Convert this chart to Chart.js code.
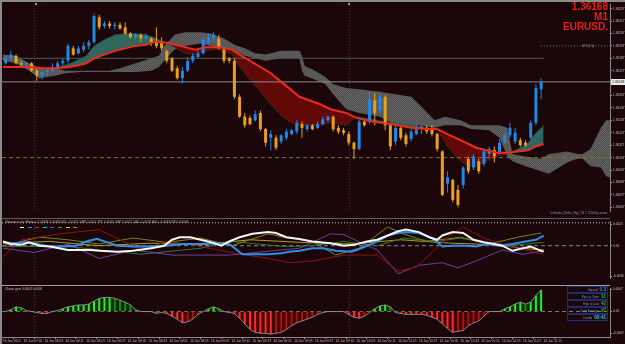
<!DOCTYPE html>
<html lang="en">
<head>
<meta charset="UTF-8">
<title>EURUSD. M1</title>
<script src="https://cdn.jsdelivr.net/npm/chart.js"></script>
<style>
    body { margin: 0; background: #1b0609; }
    #wrap { position: relative; width: 625px; height: 344px; background: #1b0609; overflow: hidden;
            font-family: 'Liberation Sans', Arial, sans-serif; }
    .pane { position: absolute; left: 2px; width: 623px; }
    #p1 { top: 2px; height: 216px; }
    #p2 { top: 219px; height: 66px; }
    #p3 { top: 286px; height: 58px; }
    .edge { position: absolute; background: #8a8a8a; }
    .sep { position: absolute; left: 2px; width: 608px; height: 1px; }
    .tiny { position: absolute; white-space: nowrap; line-height: 1; }
    #sym { position: absolute; right: 17px; top: 2px; text-align: right; color: #e3201b;
           font: bold 10px/10px 'Liberation Sans', Arial, sans-serif; }
    #pricebox { position: absolute; left: 611px; top: 79px; width: 14px; height: 6px; background: #ececec;
                color: #000; font-size: 3.4px; line-height: 6px; padding-left: 1px; overflow: hidden; }
    #info { position: absolute; left: 567px; top: 286px; width: 41px; }
    #info .row { height: 5px; border: 1px solid #1f2d70; margin-bottom: 0; display: flex;
                 justify-content: flex-end; align-items: center; gap: 2px; padding-right: 1px; }
    #info .lab { color: #7d8fb8; font-size: 3px; }
    #info .val { font-size: 4.6px; font-weight: bold; }
    .dash { position: absolute; top: 227px; width: 4px; height: 1px; }
    .mark { position: absolute; top: 3px; width: 2px; height: 2px; background: #a8a830; }
</style>
</head>
<body>
<div id="wrap">
    <div class="pane" id="p1"><canvas id="c1"></canvas></div>
    <div class="pane" id="p2"><canvas id="c2"></canvas></div>
    <div class="pane" id="p3"><canvas id="c3"></canvas></div>

    <div class="edge" style="left:0;top:0;width:625px;height:2px"></div>
    <div class="edge" style="left:0;top:0;width:2px;height:344px"></div>
    <div class="sep" style="top:218px;background:#5c5c5c"></div>
    <div class="sep" style="top:285px;background:#a0a0a0"></div>

    <div class="mark" style="left:35px"></div>
    <div class="mark" style="left:348px"></div>

    <div id="sym">1.36168<br>M1<br>EURUSD.</div>
    <div id="pricebox">1.36168</div>
    <div class="tiny" style="left:582px;top:45px;font-size:3.3px;color:#9aa8a0">DP (1.5)</div>
    <div class="tiny" style="right:18px;top:212px;font-size:3px;color:#8a9ab8">Ichimoku_Kinko_Hyo_V3 &copy; 2014 by arrow</div>

    <div class="tiny" style="left:5px;top:221px;font-size:3.2px;color:#b0b0b0">Ultimate fx by Mladen 1.1  EUR 0.0048  USD -0.0011  GBP 0.0052  JPY 0.0030  CHF 0.0027  CAD -0.0032  AUD -0.0063  NZD 0.0003</div>
    <div class="dash" style="left:20px;background:#ffffff"></div>
    <div class="dash" style="left:28px;background:#2f8fe8"></div>
    <div class="dash" style="left:35px;background:#d02020"></div>
    <div class="dash" style="left:43px;background:#20c8c8"></div>
    <div class="dash" style="left:50px;background:#8a4ac0"></div>
    <div class="dash" style="left:58px;background:#30a030"></div>
    <div class="dash" style="left:66px;background:#d0d020"></div>
    <div class="dash" style="left:73px;background:#d08020"></div>

    <div class="tiny" style="left:5px;top:288px;font-size:3.2px;color:#c0c0c0">Chaos gain 0.0003 0.0005</div>
    <div id="info">
        <div class="row"><span class="lab">Spread</span><span class="val" style="color:#2f8cff">0.3</span></div>
        <div class="row"><span class="lab">Pips to Open</span><span class="val" style="color:#22b822">11</span></div>
        <div class="row"><span class="lab">High to Low</span><span class="val" style="color:#22b822">42</span></div>
        <div class="row"><span class="lab">Daily Average</span><span class="val" style="color:#22b822">97</span></div>
        <div class="row"><span class="lab">Candle</span><span class="val" style="color:#33c8f0">00:41</span></div>
    </div>
</div>

<script>
    // bottom time labels, one every 8 bars
    var timeLabels = ['16 Jan 2014', '16 Jan 07:55', '16 Jan 08:03', '16 Jan 08:11', '16 Jan 08:19', '16 Jan 08:27',
        '16 Jan 08:35', '16 Jan 08:43', '16 Jan 08:51', '16 Jan 08:59', '16 Jan 09:07', '16 Jan 09:15', '16 Jan 09:23',
        '16 Jan 09:31', '16 Jan 09:39', '16 Jan 09:47', '16 Jan 09:55', '16 Jan 10:03', '16 Jan 10:11', '16 Jan 10:19',
        '16 Jan 10:27', '16 Jan 10:35', '16 Jan 10:43', '16 Jan 10:51', '16 Jan 10:59', '16 Jan 11:07', '16 Jan 11:15'];
    var labelEvery = 8;
    var priceTicks = [1.36227, 1.36217, 1.36207, 1.36197, 1.36187, 1.36177, 1.36167, 1.36157, 1.36147,
        1.36137, 1.36127, 1.36117, 1.36107, 1.36097, 1.36087, 1.36077, 1.36067];
    var sessionBars = [12, 133];

    // candles (every second bar)
    var barOpen = [1.36183, 1.36187, 1.36189, 1.36183, 1.36182, 1.36183, 1.36177, 1.36173, 1.36176, 1.36177,
        1.36180, 1.36183, 1.36185, 1.36195, 1.36191, 1.36194, 1.36197, 1.36200, 1.36220, 1.36213,
        1.36215, 1.36213, 1.36214, 1.36212, 1.36207, 1.36204, 1.36206, 1.36203, 1.36203, 1.36200,
        1.36200, 1.36193, 1.36187, 1.36179, 1.36171, 1.36177, 1.36185, 1.36188, 1.36191, 1.36200,
        1.36203, 1.36203, 1.36194, 1.36187, 1.36185, 1.36156, 1.36140, 1.36139, 1.36137, 1.36143,
        1.36130, 1.36123, 1.36123, 1.36120, 1.36123, 1.36126, 1.36128, 1.36134, 1.36130, 1.36133,
        1.36131, 1.36134, 1.36137, 1.36140, 1.36131, 1.36129, 1.36126, 1.36119, 1.36114, 1.36136,
        1.36136, 1.36153, 1.36145, 1.36156, 1.36133, 1.36120, 1.36131, 1.36125, 1.36122, 1.36126,
        1.36130, 1.36131, 1.36130, 1.36126, 1.36112, 1.36086, 1.36089, 1.36081, 1.36085, 1.36106,
        1.36099, 1.36104, 1.36102, 1.36110, 1.36113, 1.36111, 1.36120, 1.36125, 1.36120, 1.36121,
        1.36119, 1.36123, 1.36135, 1.36162];
    var barHigh = [1.36189, 1.36193, 1.36190, 1.36185, 1.36184, 1.36184, 1.36180, 1.36177, 1.36179, 1.36183,
        1.36185, 1.36187, 1.36199, 1.36197, 1.36197, 1.36200, 1.36202, 1.36223, 1.36222, 1.36217,
        1.36217, 1.36216, 1.36216, 1.36216, 1.36208, 1.36207, 1.36207, 1.36207, 1.36204, 1.36212,
        1.36204, 1.36194, 1.36188, 1.36181, 1.36180, 1.36188, 1.36191, 1.36193, 1.36204, 1.36207,
        1.36208, 1.36206, 1.36196, 1.36188, 1.36187, 1.36158, 1.36143, 1.36141, 1.36145, 1.36145,
        1.36131, 1.36129, 1.36125, 1.36126, 1.36130, 1.36130, 1.36137, 1.36136, 1.36134, 1.36134,
        1.36136, 1.36140, 1.36141, 1.36141, 1.36133, 1.36131, 1.36128, 1.36120, 1.36138, 1.36138,
        1.36160, 1.36159, 1.36158, 1.36157, 1.36134, 1.36133, 1.36133, 1.36127, 1.36130, 1.36133,
        1.36133, 1.36133, 1.36133, 1.36127, 1.36113, 1.36096, 1.36090, 1.36085, 1.36100, 1.36108,
        1.36110, 1.36106, 1.36114, 1.36116, 1.36116, 1.36122, 1.36127, 1.36135, 1.36131, 1.36123,
        1.36121, 1.36137, 1.36166, 1.36171];
    var barLow = [1.36182, 1.36185, 1.36182, 1.36180, 1.36180, 1.36176, 1.36169, 1.36170, 1.36173, 1.36176,
        1.36179, 1.36181, 1.36183, 1.36189, 1.36190, 1.36192, 1.36194, 1.36199, 1.36210, 1.36211,
        1.36211, 1.36210, 1.36210, 1.36206, 1.36203, 1.36202, 1.36200, 1.36202, 1.36197, 1.36195,
        1.36193, 1.36183, 1.36176, 1.36170, 1.36167, 1.36176, 1.36183, 1.36187, 1.36190, 1.36198,
        1.36200, 1.36194, 1.36183, 1.36183, 1.36154, 1.36139, 1.36131, 1.36133, 1.36136, 1.36128,
        1.36116, 1.36113, 1.36113, 1.36118, 1.36121, 1.36125, 1.36126, 1.36123, 1.36128, 1.36129,
        1.36130, 1.36133, 1.36136, 1.36128, 1.36126, 1.36125, 1.36117, 1.36106, 1.36113, 1.36132,
        1.36134, 1.36133, 1.36143, 1.36129, 1.36113, 1.36117, 1.36121, 1.36116, 1.36120, 1.36125,
        1.36126, 1.36126, 1.36124, 1.36112, 1.36076, 1.36079, 1.36071, 1.36067, 1.36082, 1.36094,
        1.36097, 1.36094, 1.36100, 1.36106, 1.36103, 1.36110, 1.36118, 1.36123, 1.36118, 1.36116,
        1.36116, 1.36122, 1.36133, 1.36154];
    var barClose = [1.36187, 1.36190, 1.36183, 1.36182, 1.36183, 1.36177, 1.36173, 1.36176, 1.36177, 1.36180,
        1.36183, 1.36185, 1.36197, 1.36190, 1.36195, 1.36197, 1.36200, 1.36221, 1.36212, 1.36215,
        1.36213, 1.36214, 1.36211, 1.36207, 1.36204, 1.36206, 1.36203, 1.36205, 1.36199, 1.36197,
        1.36195, 1.36185, 1.36177, 1.36171, 1.36177, 1.36185, 1.36189, 1.36191, 1.36202, 1.36204,
        1.36206, 1.36196, 1.36185, 1.36185, 1.36156, 1.36140, 1.36133, 1.36134, 1.36142, 1.36130,
        1.36119, 1.36126, 1.36115, 1.36125, 1.36128, 1.36129, 1.36135, 1.36131, 1.36133, 1.36130,
        1.36134, 1.36138, 1.36140, 1.36130, 1.36128, 1.36127, 1.36119, 1.36114, 1.36136, 1.36133,
        1.36154, 1.36143, 1.36156, 1.36133, 1.36116, 1.36131, 1.36123, 1.36118, 1.36128, 1.36130,
        1.36132, 1.36128, 1.36126, 1.36114, 1.36077, 1.36091, 1.36073, 1.36069, 1.36099, 1.36096,
        1.36108, 1.36096, 1.36112, 1.36114, 1.36108, 1.36119, 1.36125, 1.36131, 1.36127, 1.36117,
        1.36117, 1.36135, 1.36163, 1.36168];

    // red moving line and its signal line (share the same bars)
    var maX = [0, 10, 16, 20, 26, 32, 35, 39, 43, 47, 51, 55, 58, 62, 66, 70, 74, 78, 82, 85,
        88, 91, 95, 99, 103, 107, 110, 114, 118, 122, 126, 132, 136, 142, 149, 157, 163, 167, 171, 175,
        179, 182, 186, 190, 194, 198, 202, 205, 208];
    var redLine = [1.36180, 1.36180, 1.36179, 1.36179, 1.36180, 1.36183, 1.36187, 1.36190, 1.36193, 1.36195,
        1.36197, 1.36198, 1.36200, 1.36200, 1.36198, 1.36196, 1.36194, 1.36196, 1.36196, 1.36195,
        1.36194, 1.36190, 1.36185, 1.36180, 1.36175, 1.36168, 1.36163, 1.36156, 1.36153, 1.36150,
        1.36146, 1.36143, 1.36139, 1.36136, 1.36134, 1.36131, 1.36130, 1.36130, 1.36126, 1.36122,
        1.36118, 1.36115, 1.36113, 1.36111, 1.36111, 1.36112, 1.36113, 1.36116, 1.36118];
    var signalLine = [1.36180, 1.36180, 1.36179, 1.36179, 1.36183, 1.36189, 1.36197, 1.36202, 1.36206, 1.36207,
        1.36207, 1.36206, 1.36204, 1.36200, 1.36196, 1.36191, 1.36190, 1.36193, 1.36194, 1.36193,
        1.36190, 1.36180, 1.36170, 1.36160, 1.36150, 1.36141, 1.36136, 1.36133, 1.36133, 1.36133,
        1.36135, 1.36133, 1.36140, 1.36138, 1.36135, 1.36133, 1.36131, 1.36130, 1.36116, 1.36106,
        1.36100, 1.36100, 1.36104, 1.36108, 1.36110, 1.36114, 1.36119, 1.36127, 1.36133];

    // grey cloud (runs ahead of price)
    var kumoX = [0, 5, 10, 14, 20, 24, 30, 41, 45, 51, 57, 60, 62, 66, 70, 76, 80, 85, 89, 93,
        97, 101, 107, 114, 115, 116, 120, 124, 127, 132, 137, 145, 151, 157, 160, 166, 170, 176, 180, 187,
        191, 194, 196, 201, 207, 210, 217, 221, 223, 226, 230, 232, 234];
    var kumoTop = [1.36190, 1.36189, 1.36183, 1.36179, 1.36179, 1.36177, 1.36177, 1.36177, 1.36179, 1.36183,
        1.36187, 1.36189, 1.36197, 1.36206, 1.36208, 1.36208, 1.36207, 1.36203, 1.36198, 1.36195,
        1.36191, 1.36190, 1.36193, 1.36193, 1.36189, 1.36181, 1.36177, 1.36172, 1.36166, 1.36163,
        1.36162, 1.36160, 1.36158, 1.36156, 1.36150, 1.36137, 1.36140, 1.36137, 1.36133, 1.36133,
        1.36133, 1.36131, 1.36110, 1.36108, 1.36106, 1.36110, 1.36112, 1.36110, 1.36110, 1.36114,
        1.36131, 1.36137, 1.36137];
    var kumoBottom = [1.36185, 1.36183, 1.36177, 1.36171, 1.36173, 1.36175, 1.36176, 1.36176, 1.36176, 1.36176,
        1.36177, 1.36180, 1.36185, 1.36194, 1.36197, 1.36199, 1.36197, 1.36195, 1.36193, 1.36189,
        1.36187, 1.36185, 1.36187, 1.36187, 1.36177, 1.36173, 1.36170, 1.36166, 1.36158, 1.36146,
        1.36143, 1.36140, 1.36133, 1.36131, 1.36133, 1.36131, 1.36133, 1.36133, 1.36130, 1.36129,
        1.36123, 1.36108, 1.36104, 1.36100, 1.36096, 1.36094, 1.36103, 1.36106, 1.36106, 1.36100,
        1.36099, 1.36092, 1.36091];

    var levelPivot = 1.36187, levelPrice = 1.36168, levelSupport = 1.36107, levelDP = 1.36197;

    // middle pane lines
    var whiteX = [0, 3, 7, 10, 14, 18, 25, 30, 34, 37, 44, 50, 57, 62, 65, 68, 72, 76, 80, 84,
        87, 91, 96, 102, 105, 109, 114, 119, 126, 131, 135, 140, 144, 148, 152, 155, 160, 164, 167, 169,
        173, 177, 181, 185, 189, 192, 196, 200, 203, 207, 208];
    var whiteY = [0.0005, 0.0002, 0.0001, 0.0004, 0, -0.0001, -0.0005, -0.0005, -0.0005, -0.0006,
        -0.0007, -0.0006, -0.0003, 0, 0.0007, 0.0010, 0.0010, 0.0007, 0.0004, 0,
        0.0005, 0.0010, 0.0014, 0.0016, 0.0015, 0.0010, 0.0008, 0.0005, 0.0003, 0,
        0.0001, 0.0005, 0.0007, 0.0012, 0.0017, 0.0019, 0.0016, 0.0010, 0.0007, 0.0012,
        0.0016, 0.0015, 0.0007, 0.0004, 0.0002, 0, -0.0006, -0.0003, -0.0001, -0.0006, -0.0007];
    var blueX = [0, 4, 9, 13, 18, 23, 28, 32, 36, 40, 44, 50, 57, 63, 69, 76, 82, 87, 90, 92,
        98, 102, 107, 110, 114, 119, 123, 128, 134, 136, 140, 144, 148, 152, 155, 160, 165, 169, 173, 178,
        182, 186, 191, 196, 201, 205, 208];
    var blueY = [0.0004, 0.0003, 0.0004, 0.0002, -0.0001, -0.0001, 0, 0.0005, 0.0008, 0.0004,
        0, -0.0001, -0.0001, 0, 0.0002, 0.0002, 0.0003, 0.0002, -0.0005, -0.0010,
        -0.0010, -0.0010, -0.0009, -0.0007, -0.0006, -0.0003, -0.0003, -0.0006, -0.0007, -0.0005,
        0, 0.0005, 0.0012, 0.0015, 0.0016, 0.0015, 0.0009, -0.0001, 0, 0,
        -0.0001, 0.0002, 0, 0.0002, 0.0005, 0.0007, 0.0012];
    var redThinX = [0, 7, 22, 37, 53, 63, 71, 88, 102, 110, 119, 131, 144, 152, 159, 165, 172, 177, 185, 195, 205, 208];
    var redThinY = [-0.0013, 0.0007, 0.0014, 0.0019, -0.0005, 0.0005, 0.0002, -0.0008, -0.0015, -0.0020, -0.0018,
        -0.0011, -0.0011, -0.0030, -0.0025, -0.0008, 0.0012, 0.0022, 0.0009, -0.0001, -0.0008, -0.0010];
    var purpleX = [0, 12, 25, 37, 50, 65, 87, 114, 126, 131, 144, 152, 160, 169, 175, 182, 192, 200, 208];
    var purpleY = [-0.0003, -0.0008, 0.0002, -0.0015, -0.0005, -0.0011, -0.0011, -0.0003, 0.0014, 0.0013,
        -0.0005, -0.0033, -0.0023, -0.0020, -0.0026, -0.0018, -0.0005, -0.0010, -0.0006];
    var oliveX = [0, 14, 25, 37, 50, 63, 76, 88, 102, 108, 119, 128, 137, 148, 154, 163, 176, 187, 198, 207];
    var oliveY = [0, 0.0010, 0.0007, 0.0002, 0.0009, 0.0004, 0.0009, 0, 0.0014, 0.0010,
        0.0005, -0.0011, -0.0003, 0.0022, 0.0014, 0.0005, 0.0010, 0.0002, 0.0010, 0.0015];
    var greenX = [0, 25, 53, 76, 88, 108, 119, 131, 144, 154, 167, 176, 185, 195, 208];
    var greenY = [-0.0001, -0.0001, -0.0010, -0.0003, 0.0005, -0.0001, 0, 0.0005, 0, 0.0009, 0.0005, 0.0009, 0.0004, 0, 0.0004];
    var yellowX = [0, 18, 37, 57, 76, 95, 114, 134, 153, 172, 191, 199, 208];
    var yellowY = [0.0003, 0.0005, 0, 0.0003, 0.0001, 0.0007, 0.0004, 0.0002, 0.0007, 0.0003, 0.0001, -0.0003, -0.0005];
    var midTicks = [0.0025, 0, -0.0036];
    var midTopLevel = 0.0027;

    // bottom pane histogram (same bars as the candles)
    var gainValues = [0, 0.00006, 0.00015, 0.00012, 0.00003, 0, -0.00003, -0.00006, -0.00006, 0,
        0.00003, 0.00009, 0.00015, 0.00018, 0.00021, 0.00021, 0.00024, 0.00033, 0.00042, 0.00045,
        0.00045, 0.00042, 0.00036, 0.0003, 0.00021, 0.00006, 0, 0, 0, -0.00006,
        -0.00003, -0.00006, -0.00015, -0.00024, -0.00036, -0.00033, -0.00024, -0.00009, 0, 0.00009,
        0.00015, 0.00009, 0, -0.00003, -0.00006, -0.00021, -0.00039, -0.00057, -0.00066, -0.00069,
        -0.00069, -0.00072, -0.00069, -0.00066, -0.00057, -0.00045, -0.00036, -0.0003, -0.00024, -0.00018,
        -0.00009, -0.00003, 0, 0, 0, 0, -0.00009, -0.00018, -0.00021, -0.00015,
        -0.00003, 0.00009, 0.00018, 0.00021, 0.00015, -0.00003, -0.00006, -0.00009, -0.00009, -0.00009,
        -0.00009, -0.00012, -0.00018, -0.00024, -0.00039, -0.00054, -0.00066, -0.00063, -0.0006, -0.00045,
        -0.00036, -0.0003, -0.00015, 0, 0, 0, 0.00009, 0.00015, 0.00024, 0.0003,
        0.00024, 0.0003, 0.00051, 0.00069];
    var gainTicks = [0.0007, 0, -0.0007];

    var barIndex = barOpen.map(function (_, k) { return 1 + 2 * k; });

    function pattern(a, b) {
        var c = document.createElement('canvas');
        c.width = c.height = 2;
        var g = c.getContext('2d');
        g.fillStyle = a; g.fillRect(0, 0, 2, 2);
        g.fillStyle = b; g.fillRect(0, 0, 1, 1); g.fillRect(1, 1, 1, 1);
        return g.createPattern(c, 'repeat');
    }
    var greyPat = pattern('#505050', '#626262');
    var tealPat = pattern('#2b5e54', '#356e62');
    var redPat = pattern('#580606', '#6c0a0a');

    function series(xs, ys) { return xs.map(function (x, k) { return { x: x, y: ys[k] }; }); }
    function line(data, color, width, order, extra) {
        return Object.assign({ type: 'line', data: data, borderColor: color, borderWidth: width,
            pointRadius: 0, tension: 0, order: order }, extra || {});
    }
    function level(y, x0, x1, color, dash, order) {
        return line([{ x: x0, y: y }, { x: x1, y: y }], color, 1, order, { borderDash: dash });
    }

    var sessionLines = {
        id: 'sessionLines',
        beforeDatasetsDraw: function (chart) {
            var ctx = chart.ctx, a = chart.chartArea, x = chart.scales.x;
            ctx.save();
            ctx.strokeStyle = '#3e3e3e';
            ctx.lineWidth = 1;
            ctx.setLineDash([1, 2]);
            sessionBars.forEach(function (b) {
                var px = Math.round(x.getPixelForValue(b)) + 0.5;
                ctx.beginPath(); ctx.moveTo(px, a.top); ctx.lineTo(px, a.bottom); ctx.stroke();
            });
            ctx.restore();
        }
    };

    var tinyFont = { family: "'Liberation Sans', Arial", size: 3.2 };

    function timeAxis(show) {
        return {
            type: 'linear', min: -0.4, max: 233.5, offset: false, display: show,
            afterBuildTicks: function (s) {
                s.ticks = timeLabels.map(function (_, k) { return { value: k * labelEvery }; });
            },
            afterFit: function (s) { s.height = 7; },
            ticks: { align: 'start', autoSkip: false, maxRotation: 0, padding: 0, color: '#b8b8b8', font: tinyFont,
                callback: function (v, k) { return timeLabels[k]; } },
            grid: { display: true, drawOnChartArea: false, drawTicks: true, tickLength: 2, color: '#9a9a9a' },
            border: { display: true, color: '#8a8a8a' }
        };
    }
    function valueAxis(min, max, ticks, fmt) {
        return {
            position: 'right', min: min, max: max,
            afterBuildTicks: function (s) { s.ticks = ticks.map(function (v) { return { value: v }; }); },
            afterFit: function (s) { s.width = 15; },
            ticks: { autoSkip: false, padding: 1, color: '#c4c4c4', font: tinyFont, callback: fmt },
            grid: { display: true, drawOnChartArea: false, drawTicks: true, tickLength: 2, color: '#9a9a9a' },
            border: { display: true, color: '#8a8a8a' }
        };
    }
    function options(showTime, yAxis) {
        return {
            responsive: true, maintainAspectRatio: false, animation: false, events: [],
            layout: { padding: 0, autoPadding: false },
            plugins: { legend: { display: false }, tooltip: { enabled: false } },
            scales: { x: timeAxis(showTime), y: yAxis }
        };
    }

    // main pane
    var candleColors = barOpen.map(function (o, k) {
        return barClose[k] > o ? '#1f88e8' : (barClose[k] < o ? '#e8a11e' : '#9a9a9a');
    });
    var wicks = barIndex.map(function (x, k) { return { x: x, y: [barLow[k], barHigh[k]] }; });
    var bodies = barIndex.map(function (x, k) { return { x: x, y: [barOpen[k], barClose[k]] }; });

    new Chart(document.getElementById('c1'), {
        type: 'line',
        data: {
            datasets: [
                line(series(kumoX, kumoBottom), 'rgba(0,0,0,0)', 1, 10),
                line(series(kumoX, kumoTop), 'rgba(0,0,0,0)', 1, 9, { fill: '-1', backgroundColor: greyPat }),
                line(series(maX, signalLine), '#24502c', 1, 7,
                    { borderDash: [1, 1], fill: { target: '+1', above: tealPat, below: redPat } }),
                line(series(maX, redLine), '#ee2a1f', 2, 0),
                level(levelPivot, -0.4, 208, '#4a5e50', [], 6),
                level(levelPrice, -0.4, 233.5, '#8c8c8c', [], 6),
                level(levelSupport, -0.4, 233.5, '#857020', [4, 3], 6),
                level(levelDP, 207, 233.5, '#6c7a70', [1, 2], 6),
                { type: 'bar', data: wicks, backgroundColor: candleColors, barThickness: 1, grouped: false,
                  inflateAmount: 0, minBarLength: 1, borderWidth: 0, order: 3 },
                { type: 'bar', data: bodies, backgroundColor: candleColors, barThickness: 3, grouped: false,
                  inflateAmount: 0, minBarLength: 1, borderWidth: 0, order: 2 }
            ]
        },
        options: options(false, valueAxis(1.36064, 1.36230, priceTicks, function (v) { return v.toFixed(5); })),
        plugins: [sessionLines]
    });

    // middle pane
    var fmt4 = function (v) { return v === 0 ? '0.00' : v.toFixed(4); };
    new Chart(document.getElementById('c2'), {
        type: 'line',
        data: {
            datasets: [
                level(0, -0.4, 233.5, '#8a8a8a', [4, 3], 9),
                level(midTopLevel, -0.4, 233.5, '#c4c4c4', [1, 2], 9),
                line(series(redThinX, redThinY), '#8a1414', 1, 5),
                line(series(purpleX, purpleY), '#7040a0', 1, 5),
                line(series(oliveX, oliveY), '#7f7f20', 1, 5),
                line(series(greenX, greenY), '#2d7a2d', 1, 5),
                line(series(yellowX, yellowY), '#b0a020', 1, 5),
                line(series(blueX, blueY), '#2f8fe8', 2, 2),
                line(series(whiteX, whiteY), '#f4f4f4', 2, 1)
            ]
        },
        options: options(false, valueAxis(-0.0038, 0.0028, midTicks, fmt4)),
        plugins: [sessionLines]
    });

    // bottom pane
    var gainColors = gainValues.map(function (v, k) {
        var grow = Math.abs(v) >= (k ? Math.abs(gainValues[k - 1]) : 0);
        if (v > 0) return grow ? '#22f022' : '#0f900f';
        if (v < 0) return grow ? '#ff2a2a' : '#a81212';
        return '#555555';
    });
    var gainPoints = series(barIndex, gainValues);
    new Chart(document.getElementById('c3'), {
        type: 'line',
        data: {
            datasets: [
                level(0, -0.4, 233.5, '#808080', [4, 3], 9),
                line(gainPoints, 'rgba(0,0,0,0)', 1, 4,
                    { fill: { target: 'origin', above: 'rgba(0,70,0,0.55)', below: 'rgba(95,0,0,0.55)' } }),
                { type: 'bar', data: gainPoints, backgroundColor: gainColors, barThickness: 2, grouped: false,
                  inflateAmount: 0, borderWidth: 0, order: 2 },
                line(gainPoints, '#8c8c8c', 1, 1)
            ]
        },
        options: options(true, valueAxis(-0.00081, 0.00072, gainTicks, fmt4)),
        plugins: [sessionLines]
    });
</script>
</body>
</html>
